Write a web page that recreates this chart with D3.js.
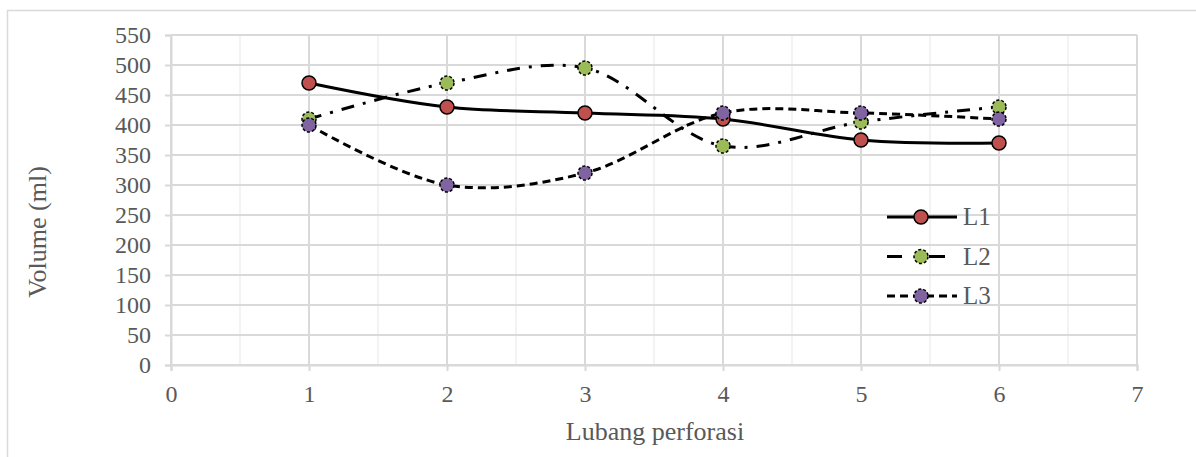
<!DOCTYPE html>
<html>
<head>
<meta charset="utf-8">
<script src="https://cdn.jsdelivr.net/npm/d3@7"></script>
<style>
  body { margin: 0; background: #fff; }
  text { font-family: "Liberation Serif", "Times New Roman", serif; fill: #595959; }
</style>
</head>
<body>
<div id="chart"></div>
<script>
const holes = [1, 2, 3, 4, 5, 6];
const l1 = [470, 430, 420, 410, 375, 370];
const l2 = [410, 470, 495, 365, 405, 430];
const l3 = [400, 300, 320, 420, 420, 410];
const seriesNames = ['L1', 'L2', 'L3'];
const xTicks = [0, 1, 2, 3, 4, 5, 6, 7];
const yTicks = d3.range(0, 551, 50);

const width = 1196, height = 457;
const margin = { top: 35, right: 59, bottom: 92, left: 171 };

const svg = d3.select('#chart').append('svg')
  .attr('width', width).attr('height', height);

// outer chart border
svg.append('rect')
  .attr('x', 7.5).attr('y', 10.5)
  .attr('width', 1200).attr('height', 460)
  .attr('fill', 'none').attr('stroke', '#d9d9d9').attr('stroke-width', 1.5);

const x = d3.scaleLinear().domain([0, 7]).range([margin.left, width - margin.right]);
const y = d3.scaleLinear().domain([0, 550]).range([height - margin.bottom, margin.top]);

// minor vertical gridlines
svg.append('g').selectAll('line')
  .data(d3.range(0.5, 7, 1))
  .join('line')
  .attr('x1', d => x(d)).attr('x2', d => x(d))
  .attr('y1', y(0)).attr('y2', y(550))
  .attr('stroke', '#efefef').attr('stroke-width', 1.5);

// major gridlines
svg.append('g').selectAll('line')
  .data(xTicks)
  .join('line')
  .attr('x1', d => x(d)).attr('x2', d => x(d))
  .attr('y1', y(0)).attr('y2', y(550))
  .attr('stroke', '#d9d9d9').attr('stroke-width', 2);

svg.append('g').selectAll('line')
  .data(yTicks)
  .join('line')
  .attr('x1', x(0)).attr('x2', x(7))
  .attr('y1', d => y(d)).attr('y2', d => y(d))
  .attr('stroke', '#d9d9d9').attr('stroke-width', 2);

// axes
const xAxis = d3.axisBottom(x).tickValues(xTicks).tickSize(6).tickPadding(14).tickFormat(d3.format('d'));
const yAxis = d3.axisLeft(y).tickValues(yTicks).tickSize(6).tickPadding(14);

const gx = svg.append('g').attr('transform', `translate(0,${y(0)})`).call(xAxis);
const gy = svg.append('g').attr('transform', `translate(${x(0)},0)`).call(yAxis);
[gx, gy].forEach(g => {
  g.select('.domain').attr('stroke', '#d9d9d9').attr('stroke-width', 2);
  g.selectAll('.tick line').attr('stroke', '#d9d9d9').attr('stroke-width', 2);
  g.selectAll('.tick text').attr('font-size', 24)
    .attr('font-family', '"Liberation Serif", serif').attr('fill', '#595959');
});
gy.selectAll('.tick text').attr('dy', '0.33em');
gx.selectAll('.tick text').attr('dy', '0.7em');

svg.append('text')
  .attr('x', 655).attr('y', 440)
  .attr('text-anchor', 'middle').attr('font-size', 26)
  .text('Lubang perforasi');

svg.append('text')
  .attr('transform', 'translate(46,232) rotate(-90)')
  .attr('text-anchor', 'middle').attr('font-size', 26)
  .text('Volume (ml)');

const series = [
  { name: seriesNames[0], values: l1, color: '#c0504d', dash: null },
  { name: seriesNames[1], values: l2, color: '#9bbb59', dash: '13,9,3,9' },
  { name: seriesNames[2], values: l3, color: '#8064a2', dash: '8,5' }
];

const line = d3.line()
  .x((d, i) => x(holes[i]))
  .y(d => y(d))
  .curve(d3.curveCatmullRom.alpha(0.5));

series.forEach(s => {
  svg.append('path')
    .attr('d', line(s.values))
    .attr('fill', 'none')
    .attr('stroke', '#000')
    .attr('stroke-width', 3)
    .attr('stroke-dasharray', s.dash);
});

series.forEach(s => {
  svg.append('g').selectAll('circle')
    .data(s.values)
    .join('circle')
    .attr('cx', (d, i) => x(holes[i]))
    .attr('cy', d => y(d))
    .attr('r', 7)
    .attr('fill', s.color)
    .attr('stroke', '#000')
    .attr('stroke-width', 1.5)
    .attr('stroke-dasharray', s.dash ? '3,2' : null);
});

// legend
const legend = svg.append('g');
series.forEach((s, i) => {
  const ly = 217 + i * 39.5;
  if (i === 1) {
    legend.append('line').attr('x1', 887).attr('x2', 902).attr('y1', ly).attr('y2', ly)
      .attr('stroke', '#000').attr('stroke-width', 3);
    legend.append('line').attr('x1', 929).attr('x2', 945).attr('y1', ly).attr('y2', ly)
      .attr('stroke', '#000').attr('stroke-width', 3);
  } else {
    legend.append('line').attr('x1', 887).attr('x2', 957).attr('y1', ly).attr('y2', ly)
      .attr('stroke', '#000').attr('stroke-width', 3)
      .attr('stroke-dasharray', s.dash ? '8,5' : null);
  }
  legend.append('circle').attr('cx', 921).attr('cy', ly).attr('r', 7)
    .attr('fill', s.color).attr('stroke', '#000').attr('stroke-width', 1.5)
    .attr('stroke-dasharray', s.dash ? '3,2' : null);
  legend.append('text').attr('x', 963).attr('y', ly).attr('dy', '0.33em')
    .attr('font-size', 25).text(s.name);
});
</script>
</body>
</html>
